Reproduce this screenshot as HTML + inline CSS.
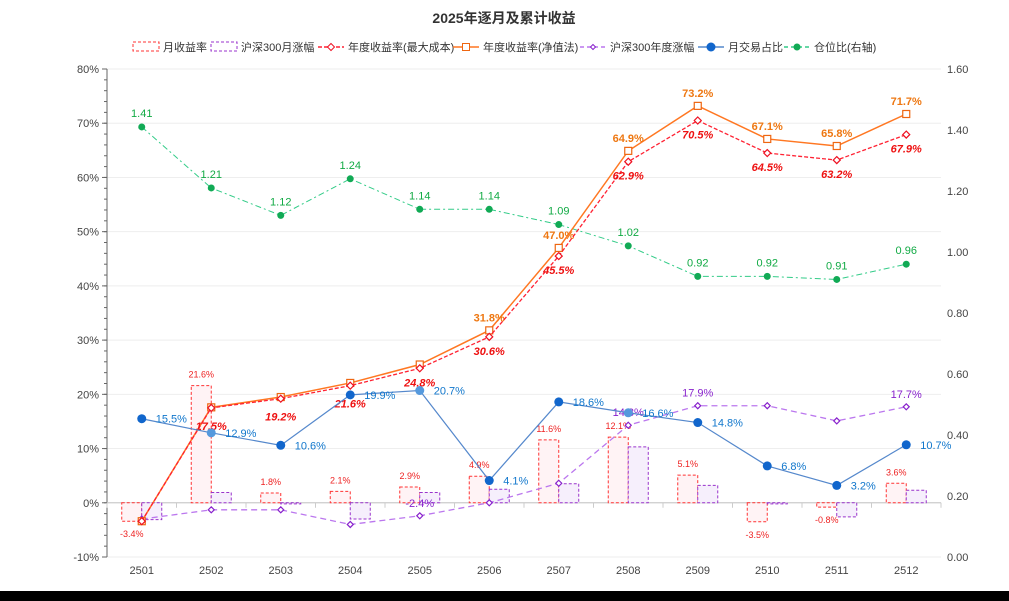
<!DOCTYPE html>
<html><head><meta charset="utf-8"><style>
html,body{margin:0;padding:0;background:#000;width:1009px;height:601px;overflow:hidden}
#wrap{position:absolute;left:0;top:0;width:1009px;height:591px;background:#fff;border-right:1px solid #ddd}
svg text{font-family:"Liberation Sans","Noto Sans CJK SC",sans-serif}
</style></head><body>
<div id="wrap">
<svg id="chart" width="1009" height="591"></svg>
</div>
<script>
const categories=['2501','2502','2503','2504','2505','2506','2507','2508','2509','2510','2511','2512'];
const monthlyReturn=[-3.4,21.6,1.8,2.1,2.9,4.9,11.6,12.1,5.1,-3.5,-0.8,3.6];
const hs300Monthly=[-3.1,1.9,-0.2,-3.0,1.9,2.5,3.5,10.3,3.2,-0.2,-2.6,2.3];
const annualMaxCost=[-3.4,17.5,19.2,21.6,24.8,30.6,45.5,62.9,70.5,64.5,63.2,67.9];
const annualNav=[-3.4,17.6,19.5,22.1,25.5,31.8,47.0,64.9,73.2,67.1,65.8,71.7];
const hs300Annual=[-3.0,-1.3,-1.3,-4.0,-2.4,0.0,3.6,14.3,17.9,17.9,15.1,17.7];
const hs300LabelShown=[false,false,false,false,true,false,false,true,true,false,false,true];
const tradeShare=[15.5,12.9,10.6,19.9,20.7,4.1,18.6,16.6,14.8,6.8,3.2,10.7];
const position=[1.41,1.21,1.12,1.24,1.14,1.14,1.09,1.02,0.92,0.92,0.91,0.96];
const leftTicks=[-10,0,10,20,30,40,50,60,70,80];
const rightTicks=[0,0.2,0.4,0.6,0.8,1.0,1.2,1.4,1.6];

const NS='http://www.w3.org/2000/svg';
const svg=document.getElementById('chart');
const X0=107,X1=941,YT=69,YB=557;
const band=(X1-X0)/categories.length;
const xc=i=>X0+band*(i+0.5);
const yL=v=>YB-(v+10)/90*(YB-YT);
const yR=v=>YB-v/1.6*(YB-YT);
function el(tag,attrs,parent){const e=document.createElementNS(NS,tag);for(const k in attrs)e.setAttribute(k,attrs[k]);(parent||svg).appendChild(e);return e;}
function txt(s,attrs,parent){const t=el('text',attrs,parent);t.textContent=s;return t;}

let t=txt('2025年逐月及累计收益',{x:504,y:23,'text-anchor':'middle','font-size':14,'font-weight':'bold',fill:'#333'});


leftTicks.forEach(v=>{
  const g=el('line',{x1:X0,x2:X1,y1:yL(v),y2:yL(v),stroke:v===0?'#ccc':'#eee','stroke-width':1});
  
  const l=txt(v+'%',{x:X0-8,y:yL(v)+4,'text-anchor':'end','font-size':11,fill:'#444'});
  
  el('line',{x1:X0-5,x2:X0,y1:yL(v),y2:yL(v),stroke:'#666'});
});
for(let v=-10;v<=80;v+=2){el('line',{x1:X0-3,x2:X0,y1:yL(v),y2:yL(v),stroke:'#666'});}
const la=el('line',{x1:X0,x2:X0,y1:YT,y2:YB,stroke:'#666'});

rightTicks.forEach(v=>{
  const l=txt(v.toFixed(2),{x:X1+6,y:yR(v)+4,'font-size':11,fill:'#444'});
  
});
const y0=yL(0);
const xa=el('line',{x1:X0,x2:X1,y1:y0,y2:y0,stroke:'#ccc'});

for(let i=0;i<=categories.length;i++){el('line',{x1:X0+band*i,x2:X0+band*i,y1:y0,y2:y0+5,stroke:'#ccc'});}
categories.forEach((c,i)=>{
  const l=txt(c,{x:xc(i),y:YB+17,'text-anchor':'middle','font-size':11,fill:'#444'});
  
});

const BW=20;
monthlyReturn.forEach((v,i)=>{
  const y=Math.min(yL(v),y0),h=Math.abs(yL(v)-y0);
  const r=el('rect',{x:xc(i)-BW,y:y,width:BW,height:h,fill:'#fff3f5',stroke:'#ff3333','stroke-dasharray':'3,2'});
  
  const l=txt(v.toFixed(1)+'%',{x:xc(i)-BW/2,y:v>=0?yL(v)-8:yL(v)+16,'text-anchor':'middle','font-size':9,fill:'#ee2222'});
  
});
hs300Monthly.forEach((v,i)=>{
  const y=Math.min(yL(v),y0),h=Math.abs(yL(v)-y0);
  const r=el('rect',{x:xc(i),y:y,width:BW,height:Math.max(h,1),fill:'#f6effc',stroke:'#9933cc','stroke-dasharray':'3,2'});
  
});

function line(vals,yf,attrs,name){
  const p=el('polyline',Object.assign({points:vals.map((v,i)=>xc(i)+','+yf(v)).join(' '),fill:'none'},attrs));
  
}
line(position,yR,{stroke:'#33cc88','stroke-width':1,'stroke-dasharray':'6,3,2,3'},'line-position-ratio');
position.forEach((v,i)=>{
  const c=el('circle',{cx:xc(i),cy:yR(v),r:3.5,fill:'#11aa55'});
  
  const l=txt(v.toFixed(2),{x:xc(i),y:yR(v)-10,'text-anchor':'middle','font-size':11,fill:'#11aa44'});
  
});
line(hs300Annual,yL,{stroke:'#bb77ee','stroke-width':1.3,'stroke-dasharray':'6,4'},'line-hs300-annual');
hs300Annual.forEach((v,i)=>{
  const d=el('path',{d:`M${xc(i)},${yL(v)-3}l3,3l-3,3l-3,-3z`,fill:'#fff',stroke:'#8822cc','stroke-width':1.2});
  
  if(hs300LabelShown[i]){const l=txt(v.toFixed(1)+'%',{x:xc(i),y:yL(v)-9,'text-anchor':'middle','font-size':11,fill:'#8822cc'});
  }
});
line(annualNav,yL,{stroke:'#ff7722','stroke-width':1.5},'line-annual-nav');
annualNav.forEach((v,i)=>{
  const r=el('rect',{x:xc(i)-3.5,y:yL(v)-3.5,width:7,height:7,fill:'#fff',stroke:'#ee6611','stroke-width':1.2});
  
  if(i>=5){const l=txt(v.toFixed(1)+'%',{x:xc(i),y:yL(v)-9,'text-anchor':'middle','font-size':11,'font-weight':'bold',fill:'#ee7711'});
  }
});
line(annualMaxCost,yL,{stroke:'#ff2233','stroke-width':1.3,'stroke-dasharray':'4,2'},'line-annual-max-cost');
annualMaxCost.forEach((v,i)=>{
  const d=el('path',{d:`M${xc(i)},${yL(v)-3.5}l3.5,3.5l-3.5,3.5l-3.5,-3.5z`,fill:'#fff',stroke:'#ee1122','stroke-width':1.2});
  
  if(i>=1){const l=txt(v.toFixed(1)+'%',{x:xc(i),y:yL(v)+(i<=3?22:18),'text-anchor':'middle','font-size':11,'font-weight':'bold','font-style':'italic',fill:'#ee1111'});
  }
});
line(tradeShare,yL,{stroke:'#5588cc','stroke-width':1.2},'line-trade-share');
tradeShare.forEach((v,i)=>{
  const light=(i===1||i===4||i===7);
  const c=el('circle',{cx:xc(i),cy:yL(v),r:4.5,fill:light?'#5599dd':'#1166cc'});
  
  const l=txt(v.toFixed(1)+'%',{x:xc(i)+14,y:yL(v)+4,'font-size':11,fill:'#1177cc'});
  
});

const leg=el('g',{});
const items=[
 {n:'月收益率',x:133,t:'barR'},{n:'沪深300月涨幅',x:211,t:'barP'},{n:'年度收益率(最大成本)',x:318,t:'lineR'},
 {n:'年度收益率(净值法)',x:453,t:'lineO'},{n:'沪深300年度涨幅',x:580,t:'lineP'},{n:'月交易占比',x:698,t:'lineB'},{n:'仓位比(右轴)',x:784,t:'lineG'}];
items.forEach(it=>{
  const g=el('g',{},leg);
  const y=47,x=it.x;
  if(it.t==='barR')el('rect',{x:x,y:y-5,width:26,height:9,fill:'#fff',stroke:'#ff3333','stroke-dasharray':'3,2'},g);
  else if(it.t==='barP')el('rect',{x:x,y:y-5,width:26,height:9,fill:'#fff',stroke:'#9933cc','stroke-dasharray':'3,2'},g);
  else{
    const col={lineR:'#ff2233',lineO:'#ff7722',lineP:'#bb77ee',lineB:'#5588cc',lineG:'#33cc88'}[it.t];
    const da={lineR:'4,2',lineO:'',lineP:'4,3',lineB:'',lineG:'4,3'}[it.t];
    el('line',{x1:x,x2:x+26,y1:y,y2:y,stroke:col,'stroke-width':1.5,'stroke-dasharray':da},g);
    if(it.t==='lineR')el('path',{d:`M${x+13},${y-3.5}l3.5,3.5l-3.5,3.5l-3.5,-3.5z`,fill:'#fff',stroke:'#ee1122'},g);
    if(it.t==='lineO')el('rect',{x:x+9.5,y:y-3.5,width:7,height:7,fill:'#fff',stroke:'#ee6611'},g);
    if(it.t==='lineP')el('path',{d:`M${x+13},${y-2.5}l2.5,2.5l-2.5,2.5l-2.5,-2.5z`,fill:'#fff',stroke:'#8822cc'},g);
    if(it.t==='lineB')el('circle',{cx:x+13,cy:y,r:4.5,fill:'#1166cc'},g);
    if(it.t==='lineG')el('circle',{cx:x+13,cy:y,r:3.5,fill:'#11aa55'},g);
  }
  txt(it.n,{x:x+30,y:y+4,'font-size':11,fill:'#333'},g);
});
</script>
</body></html>
